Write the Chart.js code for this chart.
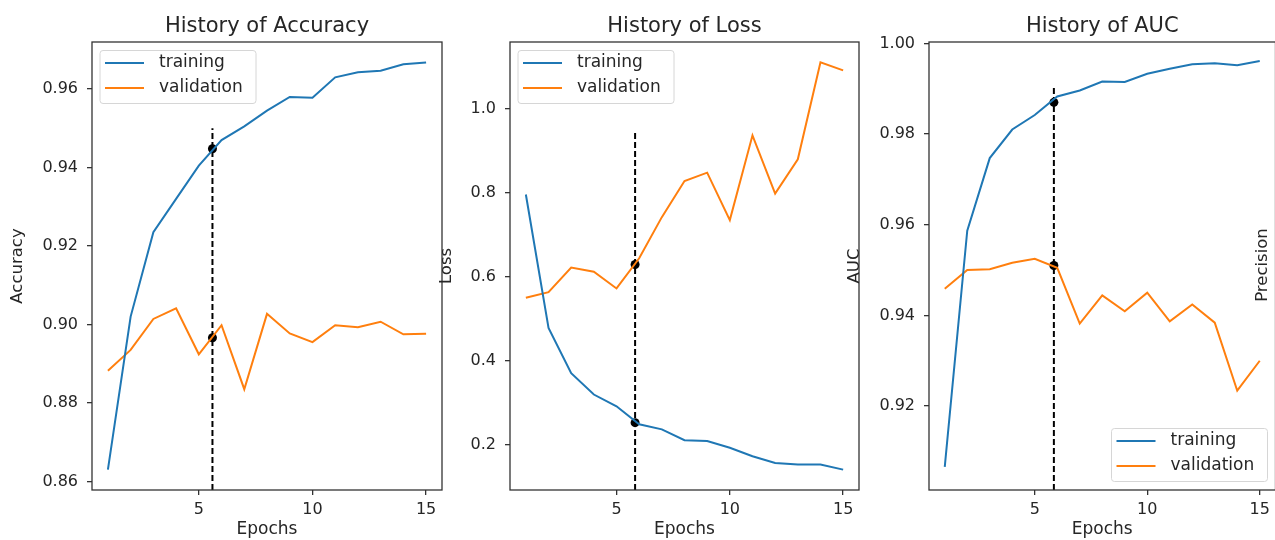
<!DOCTYPE html>
<html>
<head>
<meta charset="utf-8">
<title>Training history</title>
<script src="https://cdn.jsdelivr.net/npm/chart.js@4.4.1/dist/chart.umd.min.js"></script>
<style>
  html, body { margin: 0; padding: 0; background: #fff; overflow: hidden; }
  body { width: 1275px; height: 540px; position: relative; }
  .panel { position: absolute; top: 0; height: 540px; }
</style>
</head>
<body>
<div class="panel" style="left:0px;width:450px"><canvas id="accChart"></canvas></div>
<div class="panel" style="left:425px;width:445px"><canvas id="lossChart"></canvas></div>
<div class="panel" style="left:840px;width:440px"><canvas id="aucChart"></canvas></div>
<script>
// data
const epochs = [1, 2, 3, 4, 5, 6, 7, 8, 9, 10, 11, 12, 13, 14, 15];
const seriesLabels = ["training", "validation"];

const accTraining = [0.863, 0.902, 0.9235, 0.932, 0.9405, 0.947, 0.9505, 0.9545, 0.958, 0.9578, 0.963, 0.9643, 0.9647, 0.9663, 0.9668];
const accValidation = [0.8882, 0.8935, 0.9014, 0.9041, 0.8924, 0.8998, 0.8835, 0.9027, 0.8977, 0.8955, 0.8998, 0.8993, 0.9007, 0.8975, 0.8976];

const lossTraining = [0.796, 0.478, 0.37, 0.319, 0.291, 0.248, 0.236, 0.21, 0.208, 0.192, 0.172, 0.156, 0.152, 0.152, 0.14];
const lossValidation = [0.55, 0.563, 0.622, 0.612, 0.572, 0.644, 0.742, 0.828, 0.848, 0.735, 0.937, 0.798, 0.88, 1.111, 1.092];

const aucTraining = [0.9066, 0.9587, 0.9747, 0.981, 0.9842, 0.9883, 0.9896, 0.9916, 0.9915, 0.9933, 0.9944, 0.9954, 0.9956, 0.9952, 0.9961];
const aucValidation = [0.9459, 0.95, 0.9502, 0.9516, 0.9525, 0.9505, 0.9382, 0.9444, 0.9409, 0.945, 0.9387, 0.9424, 0.9384, 0.9234, 0.93];

// best-epoch markers: [epoch, top of dashed line, training value, validation value]
const accMarker = [5.6, 0.95, 0.9448, 0.8966];
const lossMarker = [5.82, 0.95, 0.252, 0.629];
const aucMarker = [5.85, 0.9905, 0.987, 0.951];

const xTicks = [5, 10, 15];
const accTicks = [0.86, 0.88, 0.9, 0.92, 0.94, 0.96];
const lossTicks = [0.2, 0.4, 0.6, 0.8, 1.0];
const aucTicks = [0.92, 0.94, 0.96, 0.98, 1.0];

const FONT = "'DejaVu Sans', sans-serif";
const TEXT = "#262626";
const AXIS = "#333";
const BLUE = "#1f77b4";
const ORANGE = "#ff7f0e";

// draws the full axes box (4 spines)
const framePlugin = {
  id: "frame",
  afterDatasetsDraw(chart) {
    const a = chart.chartArea;
    const ctx = chart.ctx;
    ctx.save();
    ctx.strokeStyle = AXIS;
    ctx.lineWidth = 1.3;
    ctx.strokeRect(a.left, a.top, a.right - a.left, a.bottom - a.top);
    ctx.restore();
  }
};

// title centred over the plot area, like matplotlib
const axTitlePlugin = {
  id: "axTitle",
  afterDraw(chart, args, opts) {
    const a = chart.chartArea;
    const ctx = chart.ctx;
    ctx.save();
    ctx.font = "21px " + FONT;
    ctx.fillStyle = TEXT;
    ctx.textAlign = "center";
    ctx.textBaseline = "alphabetic";
    ctx.fillText(opts.text, (a.left + a.right) / 2, 32);
    if (opts.extra) {
      // label of the next (cut off) subplot
      ctx.translate(opts.extra.x, opts.extra.y);
      ctx.rotate(-Math.PI / 2);
      ctx.textBaseline = "middle";
      ctx.font = "16.5px " + FONT;
      ctx.fillText(opts.extra.text, 0, 0);
    }
    ctx.restore();
  }
};

// legend box drawn inside the plot area
const boxLegendPlugin = {
  id: "boxLegend",
  afterDraw(chart, args, opts) {
    const a = chart.chartArea;
    const ctx = chart.ctx;
    const w = 156, h = 53;
    let x = a.left + 8, y = a.top + 8.5;
    if (opts.corner === "br") {
      x = a.right - 8 - w;
      y = a.bottom - 8.5 - h;
    }
    ctx.save();
    ctx.beginPath();
    ctx.roundRect(x, y, w, h, 3);
    ctx.fillStyle = "rgba(255,255,255,0.8)";
    ctx.fill();
    ctx.strokeStyle = "#d6d6d6";
    ctx.lineWidth = 1;
    ctx.stroke();
    const colors = [BLUE, ORANGE];
    ctx.font = "17px " + FONT;
    ctx.textBaseline = "middle";
    seriesLabels.forEach((label, i) => {
      const ry = y + 12.5 + i * 25;
      ctx.strokeStyle = colors[i];
      ctx.lineWidth = 2;
      ctx.beginPath();
      ctx.moveTo(x + 5, ry);
      ctx.lineTo(x + 44, ry);
      ctx.stroke();
      ctx.fillStyle = TEXT;
      ctx.fillText(label, x + 59, ry);
    });
    ctx.restore();
  }
};

function toPoints(values) {
  return values.map((v, i) => ({ x: epochs[i], y: v }));
}

function makeChart(id, cfg) {
  const ctx = document.getElementById(id).getContext("2d");
  return new Chart(ctx, {
    type: "line",
    data: {
      datasets: [
        {
          label: seriesLabels[0],
          data: toPoints(cfg.training),
          borderColor: BLUE,
          borderWidth: 2,
          pointRadius: 0
        },
        {
          label: seriesLabels[1],
          data: toPoints(cfg.validation),
          borderColor: ORANGE,
          borderWidth: 2,
          pointRadius: 0
        },
        {
          label: "best epoch",
          data: [
            { x: cfg.marker[0], y: cfg.yMin },
            { x: cfg.marker[0], y: cfg.marker[1] }
          ],
          borderColor: "#000",
          borderWidth: 2,
          borderDash: [6, 3],
          pointRadius: 0
        },
        {
          label: "best values",
          data: [
            { x: cfg.marker[0], y: cfg.marker[2] },
            { x: cfg.marker[0], y: cfg.marker[3] }
          ],
          showLine: false,
          pointRadius: 4.5,
          pointBackgroundColor: "#000",
          pointBorderColor: "#000",
          pointBorderWidth: 0
        }
      ]
    },
    options: {
      responsive: true,
      maintainAspectRatio: false,
      animation: false,
      layout: { padding: { top: 42, right: cfg.padRight, left: 0, bottom: 0 } },
      plugins: {
        legend: { display: false },
        tooltip: { enabled: false },
        axTitle: { text: cfg.title, extra: cfg.extra },
        boxLegend: { corner: cfg.legendCorner }
      },
      scales: {
        x: {
          type: "linear",
          min: 0.3,
          max: 15.7,
          afterBuildTicks: (scale) => {
            scale.ticks = xTicks.map((v) => ({ value: v }));
          },
          afterFit: (scale) => {
            scale.height = 50;
          },
          ticks: {
            color: TEXT,
            font: { family: FONT, size: 16 },
            padding: 5,
            maxRotation: 0,
            callback: (v) => String(v)
          },
          grid: { drawOnChartArea: false, drawTicks: true, tickLength: 5, color: AXIS, lineWidth: 1.3 },
          border: { display: false },
          title: {
            display: true,
            text: "Epochs",
            color: TEXT,
            font: { family: FONT, size: 17 },
            padding: { top: 0, bottom: 0 }
          }
        },
        y: {
          type: "linear",
          min: cfg.yMin,
          max: cfg.yMax,
          afterBuildTicks: (scale) => {
            scale.ticks = cfg.yTicks.map((v) => ({ value: v }));
          },
          afterFit: (scale) => {
            scale.width = cfg.yWidth;
          },
          ticks: {
            color: TEXT,
            font: { family: FONT, size: 16 },
            padding: 9,
            callback: (v) => v.toFixed(cfg.decimals)
          },
          grid: { drawOnChartArea: false, drawTicks: true, tickLength: 5, color: AXIS, lineWidth: 1.3 },
          border: { display: false },
          title: {
            display: true,
            text: cfg.yLabel,
            color: TEXT,
            font: { family: FONT, size: 16.5 },
            padding: { top: cfg.yTitlePad, bottom: 0 }
          }
        }
      }
    },
    plugins: [framePlugin, axTitlePlugin, boxLegendPlugin]
  });
}

makeChart("accChart", {
  title: "History of Accuracy",
  yLabel: "Accuracy",
  training: accTraining,
  validation: accValidation,
  marker: accMarker,
  yTicks: accTicks,
  decimals: 2,
  yMin: 0.8578,
  yMax: 0.972,
  yWidth: 92,
  yTitlePad: 8,
  padRight: 8,
  legendCorner: "tl"
});

makeChart("lossChart", {
  title: "History of Loss",
  yLabel: "Loss",
  training: lossTraining,
  validation: lossValidation,
  marker: lossMarker,
  yTicks: lossTicks,
  decimals: 1,
  yMin: 0.0914,
  yMax: 1.1596,
  yWidth: 85,
  yTitlePad: 12,
  padRight: 11,
  legendCorner: "tl"
});

makeChart("aucChart", {
  title: "History of AUC",
  yLabel: "AUC",
  training: aucTraining,
  validation: aucValidation,
  marker: aucMarker,
  yTicks: aucTicks,
  decimals: 2,
  yMin: 0.9015,
  yMax: 1.0003,
  yWidth: 89,
  yTitlePad: 5,
  padRight: 3,
  legendCorner: "br",
  extra: { text: "Precision", x: 423, y: 265 }
});
</script>
</body>
</html>
